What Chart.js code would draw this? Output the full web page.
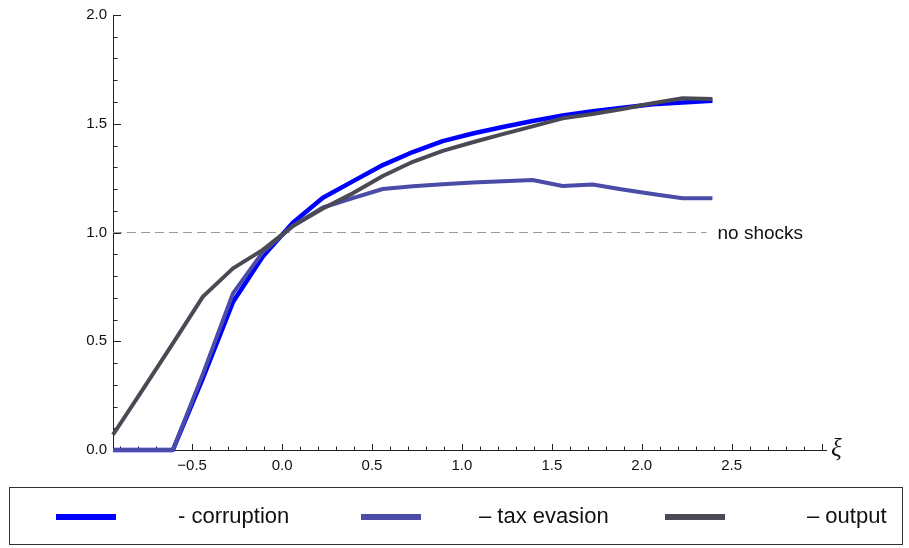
<!DOCTYPE html>
<html>
<head>
<meta charset="utf-8">
<script src="https://cdn.jsdelivr.net/npm/chart.js@4/dist/chart.umd.min.js"></script>
<style>
  body { margin:0; background:#fff; }
  #wrap { position:relative; width:909px; height:548px; }
  #legend { position:absolute; left:9px; top:487px; width:894px; height:58px; border:1px solid #333; box-sizing:border-box; font-family:"Liberation Sans", Arial, sans-serif; font-size:22px; color:#111; }
  #legend .sw { position:absolute; height:6px; width:60px; top:26px; }
  #legend .tx { position:absolute; top:15px; line-height:26px; white-space:nowrap; }
</style>
</head>
<body>
<div id="wrap">
  <canvas id="c" width="909" height="548"></canvas>
  <div id="legend">
    <div class="sw" style="left:46px;background:#0000ff"></div><span class="tx" style="left:168px">- corruption</span>
    <div class="sw" style="left:351px;background:#4b4ba8"></div><span class="tx" style="left:469px">– tax evasion</span>
    <div class="sw" style="left:655px;background:#4a4a55"></div><span class="tx" style="left:797px">– output</span>
  </div>
</div>
<script>
// values, xi grid step ~1/6
const xs = [-0.94, -0.773, -0.607, -0.44, -0.273, -0.107, 0.06, 0.227, 0.393, 0.56, 0.727,
            0.893, 1.06, 1.227, 1.393, 1.56, 1.727, 1.893, 2.06, 2.227, 2.393];
const corruption = [0, 0, 0, 0.33, 0.68, 0.89, 1.045, 1.16, 1.235, 1.31, 1.37,
                    1.42, 1.455, 1.485, 1.513, 1.538, 1.558, 1.574, 1.59, 1.598, 1.606];
const taxEvasion = [0, 0, 0, 0.35, 0.72, 0.91, 1.03, 1.115, 1.158, 1.2, 1.213,
                    1.222, 1.23, 1.236, 1.241, 1.214, 1.221, 1.198, 1.177, 1.157, 1.158];
const output = [0.07, 0.28, 0.49, 0.705, 0.835, 0.92, 1.03, 1.11, 1.18, 1.26, 1.325,
                1.375, 1.415, 1.452, 1.488, 1.525, 1.545, 1.568, 1.594, 1.617, 1.614];
const noShockX = [-0.94, 2.36];
const noShockY = [1, 1];

const xTicks = [-0.5, 0, 0.5, 1, 1.5, 2, 2.5];
const xTickLabels = ['−0.5', '0.0', '0.5', '1.0', '1.5', '2.0', '2.5'];
const yTicks = [0, 0.5, 1, 1.5, 2];
const yTickLabels = ['0.0', '0.5', '1.0', '1.5', '2.0'];

const pts = (xa, ya) => xa.map((x, i) => ({x, y: ya[i]}));

// Mathematica-like axes: drawn under the curves
const axesPlugin = {
  id: 'axes',
  beforeDatasetsDraw(chart){
    const ctx = chart.ctx, sx = chart.scales.x, sy = chart.scales.y;
    const x0 = sx.left, y0 = sy.getPixelForValue(0);
    ctx.save();
    ctx.strokeStyle = '#222';
    ctx.lineWidth = 1;
    ctx.beginPath();
    ctx.moveTo(x0, y0 + 0.5); ctx.lineTo(sx.right, y0 + 0.5);
    ctx.moveTo(x0 + 0.5, y0); ctx.lineTo(x0 + 0.5, sy.top);
    // x minor/major ticks
    for(let i = -9; i <= 30; i++){
      const v = i / 10;
      const px = Math.round(sx.getPixelForValue(v)) + 0.5;
      const len = (i % 5 === 0) ? 6 : 3.5;
      ctx.moveTo(px, y0); ctx.lineTo(px, y0 - len);
    }
    for(let i = 1; i <= 20; i++){
      const py = Math.round(sy.getPixelForValue(i / 10)) + 0.5;
      const len = (i % 5 === 0) ? 8 : 4.5;
      ctx.moveTo(x0, py); ctx.lineTo(x0 + len, py);
    }
    ctx.stroke();

    ctx.fillStyle = '#111';
    ctx.font = '15px "Liberation Sans", Arial, sans-serif';
    ctx.textAlign = 'center'; ctx.textBaseline = 'top';
    xTicks.forEach((v, i) => ctx.fillText(xTickLabels[i], sx.getPixelForValue(v), y0 + 8));
    ctx.textAlign = 'right'; ctx.textBaseline = 'middle';
    yTicks.forEach((v, i) => ctx.fillText(yTickLabels[i], x0 - 6, sy.getPixelForValue(v)));

    ctx.font = 'italic 25px "Liberation Serif", "DejaVu Serif", serif';
    ctx.textAlign = 'left';
    ctx.fillText('ξ', sx.right + 4, y0 - 1);

    ctx.font = '19px "Liberation Sans", Arial, sans-serif';
    ctx.fillStyle = '#111';
    ctx.fillText('no shocks', sx.getPixelForValue(noShockX[1]) + 11, sy.getPixelForValue(1) + 1);
    ctx.restore();
  }
};

new Chart(document.getElementById('c'), {
  type: 'scatter',
  data: {
    datasets: [
      {label:'no shocks', data: pts(noShockX, noShockY), borderColor:'#999', borderWidth:1.2, borderDash:[9,5], order:5},
      {label:'corruption', data: pts(xs, corruption), borderColor:'#0000ff', borderWidth:4.5, order:3},
      {label:'tax evasion', data: pts(xs, taxEvasion), borderColor:'#4b4ba8', borderWidth:4, order:2},
      {label:'output', data: pts(xs, output), borderColor:'#4a4a55', borderWidth:4, order:1}
    ].map(d => Object.assign({showLine:true, pointRadius:0, fill:false, tension:0, clip:false, borderJoinStyle:'round'}, d))
  },
  options: {
    responsive: false,
    animation: false,
    layout: { padding: {left:113, right:82, top:15, bottom:98} },
    plugins: { legend:{display:false}, tooltip:{enabled:false} },
    scales: {
      x: { type:'linear', min:-0.94, max:3.03, display:false },
      y: { type:'linear', min:0, max:2, display:false }
    }
  },
  plugins: [axesPlugin]
});
</script>
</body>
</html>
